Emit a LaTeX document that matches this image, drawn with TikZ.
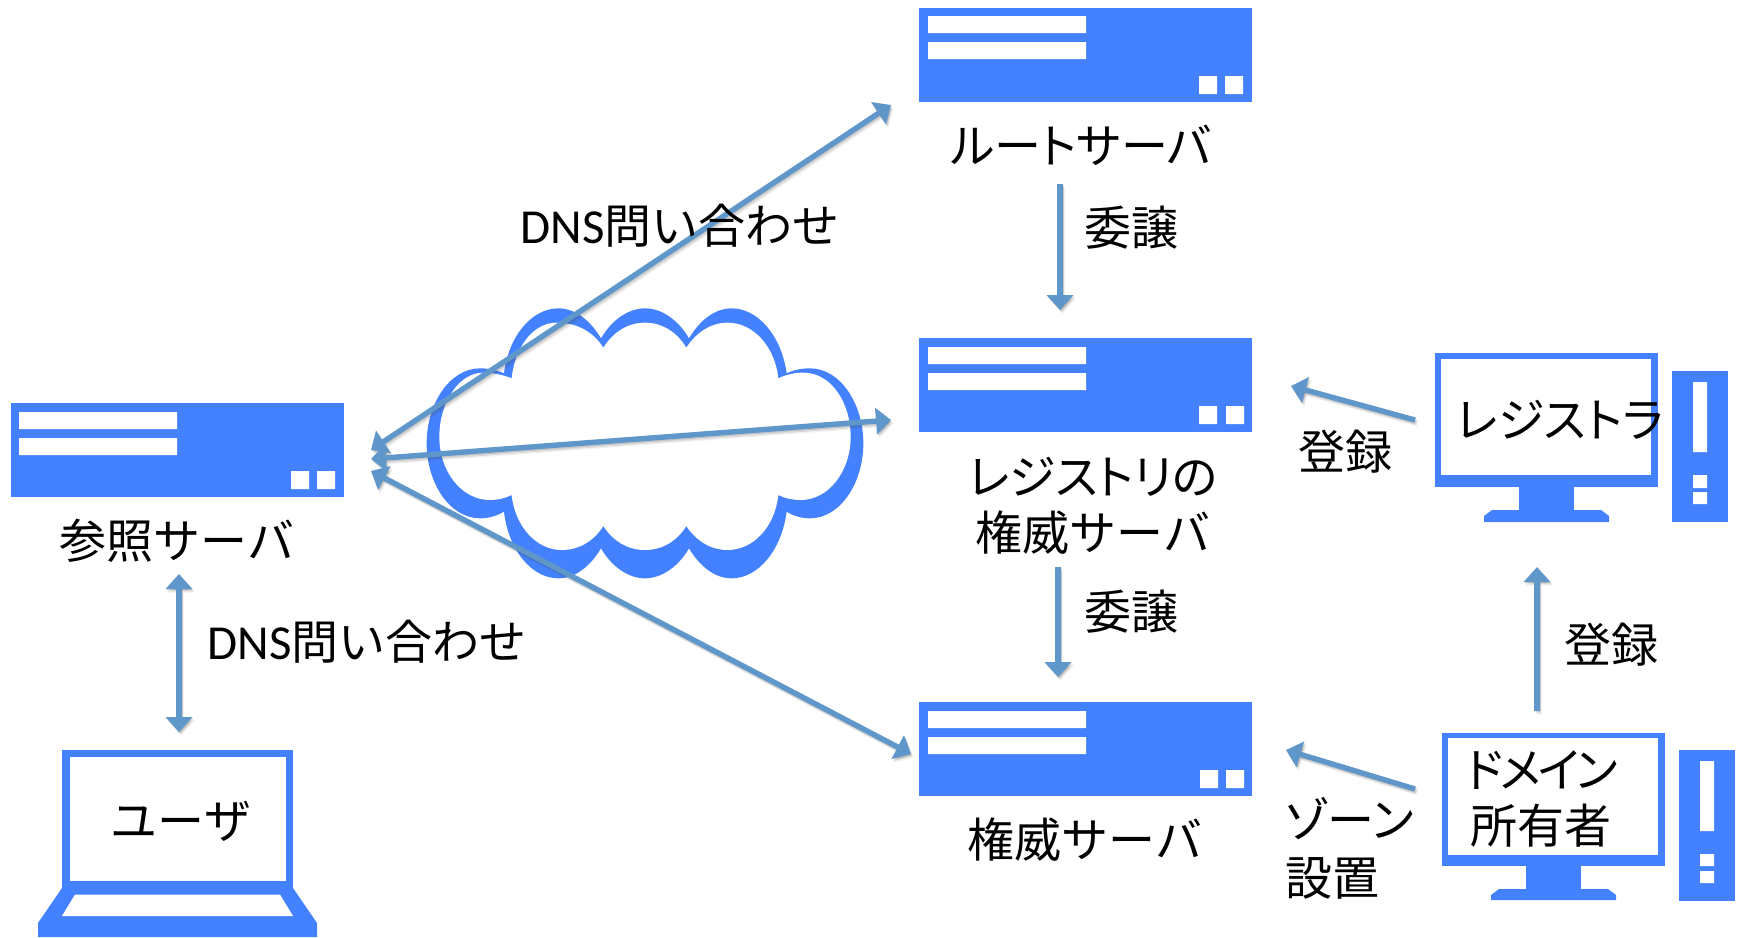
\documentclass[tikz,border=0pt]{standalone}
\usepackage{fontspec}
\setmainfont{Noto Sans CJK JP}
\newfontfamily\latfont[Scale=1.04]{Carlito}
\newfontfamily\paltfont[RawFeature={+palt}]{Noto Sans CJK JP}
\newfontfamily\tightfont[RawFeature={+palt},LetterSpace=-7]{Noto Sans CJK JP}
\usetikzlibrary{arrows.meta}
\definecolor{iconblue}{HTML}{4481FF}
\definecolor{arrowblue}{HTML}{5F97CA}
\newcommand\lh{\vrule height 40.5pt depth 5.5pt width 0pt}
\newcommand\arrowline[2]{%
  \foreach \sx/\sy/\op in {0.8/1.2/0.14,1.6/2.4/0.12,2.4/3.6/0.08}{%
    \draw[#1,opacity=\op,draw=black!70] ([shift={(\sx,\sy)}]#2);}%
}
\tikzset{
  x=1pt,y=-1pt,
  server/.style={rectangle,fill=iconblue,draw=none,inner sep=0pt,minimum width=333pt,minimum height=94pt},
  iconfill/.style={fill=iconblue,draw=none},
  hole/.style={fill=white,draw=none},
  conn/.style={draw=arrowblue,line width=5.4pt},
  onetip/.style={-{Triangle[length=15pt,width=26pt]}},
  twotips/.style={{Triangle[length=15pt,width=26pt]}-{Triangle[length=15pt,width=26pt]}},
  lbl/.style={font=\fontsize{47}{56}\selectfont,inner sep=0pt,text=black,text height=40.5pt,text depth=5.5pt},
  mlbl/.style={font=\fontsize{47}{#1}\selectfont,inner sep=0pt,text=black},
}
\begin{document}
\begin{tikzpicture}
\useasboundingbox (0,0) rectangle (1745,937);
% cloud
\begin{scope}[shift={(380,280)},scale=0.33333]
\fill[iconblue] (372,280) .. controls (350,270) and (325,265) .. (300,265) .. controls (210,265) and (140,370) .. (140,490) .. controls (140,610) and (210,715) .. (300,715) .. controls (325,715) and (350,708) .. (372,695)
 .. controls (385,810) and (455,895) .. (535,895) .. controls (585,895) and (630,860) .. (663,805)
 .. controls (695,860) and (745,895) .. (795,895) .. controls (845,895) and (895,860) .. (927,805)
 .. controls (960,860) and (1005,895) .. (1055,895) .. controls (1135,895) and (1205,810) .. (1220,695)
 .. controls (1240,708) and (1265,715) .. (1290,715) .. controls (1380,715) and (1450,610) .. (1450,490) .. controls (1450,370) and (1380,265) .. (1290,265) .. controls (1265,265) and (1240,270) .. (1220,280)
 .. controls (1205,170) and (1135,85) .. (1055,85) .. controls (1005,85) and (960,120) .. (927,175)
 .. controls (895,120) and (845,85) .. (795,85) .. controls (745,85) and (695,120) .. (663,175)
 .. controls (630,120) and (585,85) .. (535,85) .. controls (455,85) and (385,170) .. (372,280) -- cycle;
\fill[white] (395,295) .. controls (365,283) and (335,278) .. (310,278) .. controls (235,278) and (178,370) .. (178,470) .. controls (178,575) and (245,660) .. (330,660) .. controls (352,660) and (375,655) .. (395,645)
 .. controls (405,740) and (470,810) .. (545,810) .. controls (595,810) and (640,785) .. (670,738)
 .. controls (700,785) and (745,810) .. (795,810) .. controls (845,810) and (890,785) .. (919,738)
 .. controls (950,785) and (995,810) .. (1043,810) .. controls (1120,810) and (1185,740) .. (1195,645)
 .. controls (1215,655) and (1238,660) .. (1262,660) .. controls (1345,660) and (1412,575) .. (1412,470) .. controls (1412,370) and (1355,278) .. (1270,278) .. controls (1245,278) and (1220,283) .. (1195,295)
 .. controls (1185,200) and (1120,128) .. (1043,128) .. controls (995,128) and (950,155) .. (919,203)
 .. controls (890,155) and (845,128) .. (795,128) .. controls (745,128) and (700,155) .. (670,203)
 .. controls (640,155) and (590,128) .. (530,128) .. controls (460,128) and (405,200) .. (395,295) -- cycle;
\end{scope}
% servers
\node[server] (resolver) at (177.5,450) {};
\fill[hole] (19,412) rectangle (177,429) (19,438) rectangle (177,455) (291,471) rectangle (309,489) (317,471) rectangle (335,489);
\node[server] (root) at (1085.5,55) {};
\fill[hole] (928,16) rectangle (1086,33) (928,42) rectangle (1086,59) (1199,76) rectangle (1217,94) (1225,76) rectangle (1243,94);
\node[server] (registry) at (1085.5,385) {};
\fill[hole] (928,347) rectangle (1086,364) (928,373) rectangle (1086,390) (1199,406) rectangle (1217,424) (1226,406) rectangle (1244,424);
\node[server] (auth) at (1085.5,749) {};
\fill[hole] (928,711) rectangle (1086,728) (928,737) rectangle (1086,754) (1200,770) rectangle (1218,788) (1226,770) rectangle (1244,788);
% registrar computer
\fill[iconfill] (1435,353) rectangle (1658,487);
\fill[hole] (1441,359) rectangle (1651,475);
\fill[iconfill] (1519,487) rectangle (1574,511);
\fill[iconfill] (1484,522) -- (1484,516) -- (1492,510) -- (1601,510) -- (1609,516) -- (1609,522) -- cycle;
\fill[iconfill] (1672,371) rectangle (1728,522);
\fill[hole] (1693,382) rectangle (1707,452) (1693,475) rectangle (1707,488) (1693,492) rectangle (1707,504);
% owner computer
\fill[iconfill] (1442,733) rectangle (1665,866);
\fill[hole] (1448,738) rectangle (1658,855);
\fill[iconfill] (1526,866) rectangle (1581,890);
\fill[iconfill] (1491,900) -- (1491,895) -- (1499,889) -- (1608,889) -- (1616,895) -- (1616,900) -- cycle;
\fill[iconfill] (1679,750) rectangle (1735,901);
\fill[hole] (1700,761) rectangle (1714,831) (1700,854) rectangle (1714,866) (1700,871) rectangle (1714,883);
% laptop
\fill[iconfill] (62,750) rectangle (293,888);
\fill[hole] (70,757) rectangle (286,881);
\fill[iconfill] (62,888) -- (38,923) -- (38,937) -- (317,937) -- (317,923) -- (293,888) -- cycle;
\fill[hole] (75,894.5) -- (280,894.5) -- (293,916) -- (62,916) -- cycle;
% connector ends
\coordinate (uA) at (179,574);   \coordinate (uB) at (179,732);
\coordinate (qRootA) at (371,450); \coordinate (qRootB) at (891,105);
\coordinate (qRegA) at (371,459);  \coordinate (qRegB) at (891,420);
\coordinate (qAuthA) at (371,471); \coordinate (qAuthB) at (911,754);
\coordinate (dA1) at (1060,184); \coordinate (dA2) at (1060,310);
\coordinate (dB1) at (1058,567); \coordinate (dB2) at (1058,677);
\coordinate (rA1) at (1415,420); \coordinate (rA2) at (1291,386);
\coordinate (rB1) at (1537,711); \coordinate (rB2) at (1537,567);
\coordinate (zA1) at (1415,789); \coordinate (zA2) at (1286,750);
% shadows
\arrowline{conn,twotips}{uA) -- ([shift={(\sx,\sy)}]uB}
\arrowline{conn,twotips}{qRootA) -- ([shift={(\sx,\sy)}]qRootB}
\arrowline{conn,twotips}{qRegA) -- ([shift={(\sx,\sy)}]qRegB}
\arrowline{conn,twotips}{qAuthA) -- ([shift={(\sx,\sy)}]qAuthB}
\arrowline{conn,onetip}{dA1) -- ([shift={(\sx,\sy)}]dA2}
\arrowline{conn,onetip}{dB1) -- ([shift={(\sx,\sy)}]dB2}
\arrowline{conn,onetip}{rA1) -- ([shift={(\sx,\sy)}]rA2}
\arrowline{conn,onetip}{rB1) -- ([shift={(\sx,\sy)}]rB2}
\arrowline{conn,onetip}{zA1) -- ([shift={(\sx,\sy)}]zA2}
% connectors
\draw[conn,twotips] (uA) -- (uB);
\draw[conn,twotips] (qRootA) -- (qRootB);
\draw[conn,twotips] (qRegA) -- (qRegB);
\draw[conn,twotips] (qAuthA) -- (qAuthB);
\draw[conn,onetip] (dA1) -- (dA2);
\draw[conn,onetip] (dB1) -- (dB2);
\draw[conn,onetip] (rA1) -- (rA2);
\draw[conn,onetip] (rB1) -- (rB2);
\draw[conn,onetip] (zA1) -- (zA2);
% labels
\node[lbl] (tResolver) at (177,541) {参照サーバ};
\node[lbl] (tUser) at (181,821) {ユーザ};
\node[lbl] (tQ1) at (367,642) {{\latfont DNS}問い合わせ};
\node[lbl] (tQ2) at (680,226) {{\latfont DNS}問い合わせ};
\node[lbl] (tRoot) at (1081,146) {\paltfont ルートサーバ};
\node[lbl] (tD1) at (1131,228) {委譲};
\node[mlbl=56,align=center] (tRegistry) at (1093,505) {\lh\paltfont レジストリの\\\lh 権威サーバ};
\node[lbl] (tD2) at (1131,612) {委譲};
\node[lbl] (tAuth) at (1085,840) {権威サーバ};
\node[lbl] (tR1) at (1345,452) {登録};
\node[lbl] (tR2) at (1611,645) {登録};
\node[lbl] (tRegistrar) at (1560,420) {\paltfont レジストラ};
\node[mlbl=56,align=left,anchor=west] (tOwner) at (1466,798) {\lh\tightfont ドメイン\\\lh\hspace*{4pt}所有者};
\node[mlbl=58,align=left,anchor=west] (tZone) at (1285,849) {\lh\paltfont ゾーン\\\lh 設置};
\end{tikzpicture}
\end{document}
